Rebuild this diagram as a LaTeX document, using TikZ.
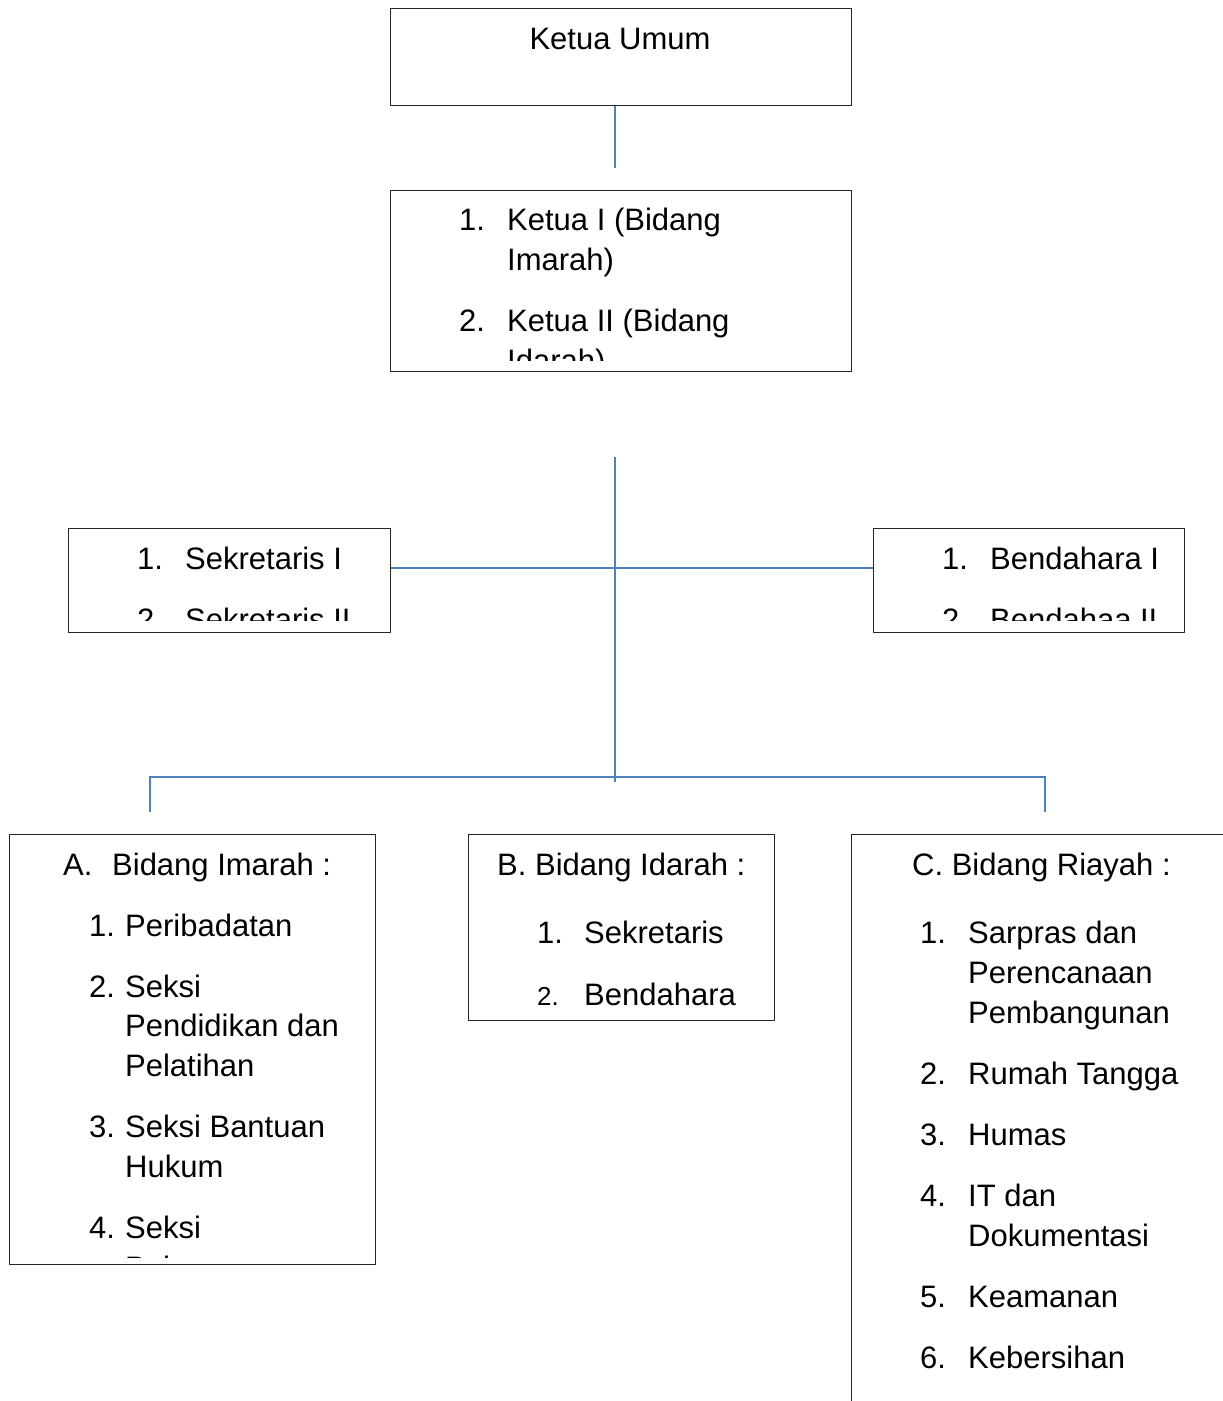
\documentclass[tikz,border=0pt]{standalone}
\usepackage{fontspec}
\setmainfont{Liberation Sans}
\definecolor{linkblue}{RGB}{79,129,189}
\newcommand\Ln[4]{\node[txt] (#1) at (#2,#3) {#4};}
\begin{document}
\begin{tikzpicture}[x=1pt,y=-1pt,
  box/.style={draw=black!85, line width=1.4pt, inner sep=0pt, anchor=north west},
  conn/.style={draw=linkblue, line width=2pt},
  txt/.style={inner sep=0pt, anchor=base west, font=\fontsize{31}{37}\selectfont},
  smallnum/.style={inner sep=0pt, anchor=base west, font=\fontsize{26}{31}\selectfont}]
\path[use as bounding box, clip] (0,0) rectangle (1223,1401);
% boxes
\node[box, minimum width=461pt, minimum height=97pt] (ku) at (390,8) {};
\node[box, minimum width=461pt, minimum height=181pt] (ketua) at (390,190) {};
\node[box, minimum width=322pt, minimum height=104pt] (sek) at (68,528) {};
\node[box, minimum width=311pt, minimum height=104pt] (ben) at (873,528) {};
\node[box, minimum width=366pt, minimum height=430pt] (ba) at (9,834) {};
\node[box, minimum width=306pt, minimum height=186pt] (bb) at (468,834) {};
\node[box, minimum width=420pt, minimum height=620pt] (bc) at (851,834) {};
% connectors
\coordinate (c1) at (615,168);
\coordinate (vtop) at (615,457);
\coordinate (vbot) at (615,782);
\coordinate (hm) at (615,568);
\coordinate (hl) at (150,777);
\coordinate (hr) at (1045,777);
\coordinate (dl) at (150,812);
\coordinate (dr) at (1045,812);
\draw[conn] (ku.south -| c1) -- (c1);
\draw[conn] (vtop) -- (vbot);
\draw[conn] (sek.east |- hm) -- (ben.west |- hm);
\draw[conn] (dl) -- (hl) -- (hr) -- (dr);
% texts
\node[txt, anchor=base] (t0) at (620,49) {Ketua Umum};
\begin{scope}
\clip (390,190) rectangle (851,360);
\Ln{k1n}{459}{230}{1.}
\Ln{k1a}{507}{230}{Ketua I (Bidang}
\Ln{k1b}{507}{270}{Imarah)}
\Ln{k2n}{459}{331}{2.}
\Ln{k2a}{507}{331}{Ketua II (Bidang}
\Ln{k2b}{507}{371}{Idarah)}
\end{scope}
\begin{scope}
\clip (68,528) rectangle (390,620);
\Ln{s1n}{137}{569}{1.}
\Ln{s1}{185}{569}{Sekretaris I}
\Ln{s2n}{137}{630}{2.}
\Ln{s2}{185}{630}{Sekretaris II}
\end{scope}
\begin{scope}
\clip (873,528) rectangle (1184,620);
\Ln{b1n}{942}{569}{1.}
\Ln{b1}{990}{569}{Bendahara I}
\Ln{b2n}{942}{630}{2.}
\Ln{b2}{990}{630}{Bendahaa II}
\end{scope}
\begin{scope}
\clip (9,834) rectangle (375,1257);
\Ln{ah}{63}{875}{A.}
\Ln{aha}{112}{875}{Bidang Imarah :}
\Ln{a1n}{89}{936}{1.}
\Ln{a1}{125}{936}{Peribadatan}
\Ln{a2n}{89}{997}{2.}
\Ln{a2a}{125}{997}{Seksi}
\Ln{a2b}{125}{1036}{Pendidikan dan}
\Ln{a2c}{125}{1076}{Pelatihan}
\Ln{a3n}{89}{1137}{3.}
\Ln{a3a}{125}{1137}{Seksi Bantuan}
\Ln{a3b}{125}{1177}{Hukum}
\Ln{a4n}{89}{1238}{4.}
\Ln{a4a}{125}{1238}{Seksi}
\Ln{a4b}{125}{1278}{Pelayanan}
\end{scope}
\Ln{bh}{497}{875}{B. Bidang Idarah :}
\Ln{bb1n}{537}{943}{1.}
\Ln{bb1}{584}{943}{Sekretaris}
\node[smallnum] (bb2n) at (537,1005) {2.};
\Ln{bb2}{584}{1005}{Bendahara}
\Ln{ch}{912}{875}{C. Bidang Riayah :}
\Ln{c1n}{920}{943}{1.}
\Ln{c1a}{968}{943}{Sarpras dan}
\Ln{c1b}{968}{983}{Perencanaan}
\Ln{c1c}{968}{1023}{Pembangunan}
\Ln{c2n}{920}{1084}{2.}
\Ln{c2}{968}{1084}{Rumah Tangga}
\Ln{c3n}{920}{1145}{3.}
\Ln{c3}{968}{1145}{Humas}
\Ln{c4n}{920}{1206}{4.}
\Ln{c4a}{968}{1206}{IT dan}
\Ln{c4b}{968}{1246}{Dokumentasi}
\Ln{c5n}{920}{1307}{5.}
\Ln{c5}{968}{1307}{Keamanan}
\Ln{c6n}{920}{1368}{6.}
\Ln{c6}{968}{1368}{Kebersihan}
\end{tikzpicture}
\end{document}
